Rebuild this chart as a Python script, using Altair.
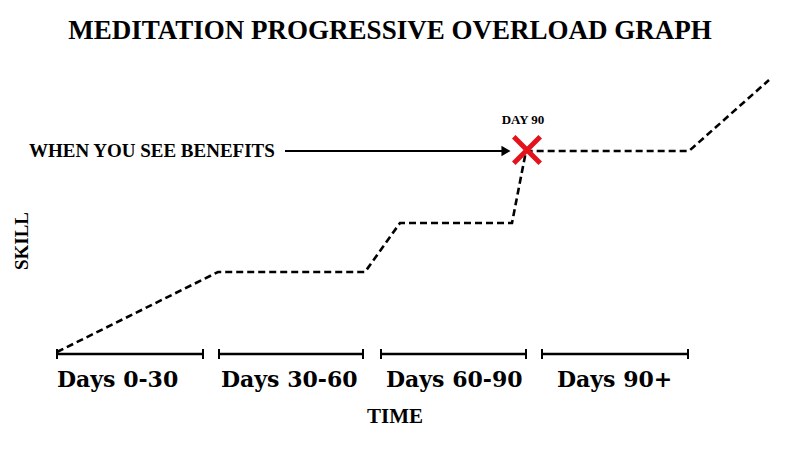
import altair as alt
import pandas as pd

# ---- data (time position / skill level) ----
line_time = [57, 218, 365, 400, 512, 526, 689, 769]
line_skill = [98, 178, 178, 227, 227, 299, 299, 370]

seg_start = [57, 219, 381, 542]
seg_end = [203, 363, 526, 688]
seg_labels = ["Days 0-30", "Days 30-60", "Days 60-90", "Days 90+"]
label_x = [57, 221, 386, 557]

seg_level = 96
tick_low, tick_high = 91, 101

arrow_start, arrow_end, arrow_level = 285, 505, 299
mark_time, mark_skill = 527, 300

title_text = "MEDITATION PROGRESSIVE OVERLOAD GRAPH"

xs = alt.Scale(domain=[0, 800], range=[0, 800], nice=False, zero=False)
ys = alt.Scale(domain=[0, 450], range=[450, 0], nice=False, zero=False)


def X(f, **kw):
    return alt.X(f, type="quantitative", scale=xs, axis=None, **kw)


def Y(f, **kw):
    return alt.Y(f, type="quantitative", scale=ys, axis=None, **kw)


line_df = pd.DataFrame({"time": line_time, "skill": line_skill, "order": range(len(line_time))})
seg_df = pd.DataFrame({"start": seg_start, "end": seg_end, "level": [seg_level] * 4})
tick_df = pd.DataFrame({"t": seg_start + seg_end, "lo": [tick_low] * 8, "hi": [tick_high] * 8})
lab_df = pd.DataFrame({"x": label_x, "y": [63] * 4, "label": seg_labels})

line = alt.Chart(line_df).mark_line(
    color="black", strokeWidth=2.6, strokeDash=[7, 4]
).encode(x=X("time"), y=Y("skill"), order="order:Q")

segs = alt.Chart(seg_df).mark_rule(color="black", strokeWidth=2.5).encode(
    x=X("start"), x2="end", y=Y("level")
)
ticks = alt.Chart(tick_df).mark_rule(color="black", strokeWidth=2).encode(
    x=X("t"), y=Y("lo"), y2="hi"
)
labels = alt.Chart(lab_df).mark_text(
    font="DejaVu Serif", fontWeight="bold", fontSize=22, align="left", baseline="alphabetic", color="black"
).encode(x=X("x"), y=Y("y"), text="label:N")

arrow_df = pd.DataFrame({"a": [arrow_start], "b": [arrow_end], "y": [arrow_level]})
arrow = alt.Chart(arrow_df).mark_rule(color="black", strokeWidth=2).encode(
    x=X("a"), x2="b", y=Y("y")
)
head = alt.Chart(pd.DataFrame({"x": [arrow_end + 1], "y": [arrow_level]})).mark_point(
    shape="triangle-right", filled=True, color="black", size=110, opacity=1
).encode(x=X("x"), y=Y("y"))

cross = alt.Chart(pd.DataFrame({"x": [mark_time], "y": [mark_skill]})).mark_point(
    shape="M-1,-1L1,1M1,-1L-1,1", filled=False, color="#e3121b", strokeWidth=5, size=700, opacity=1
).encode(x=X("x"), y=Y("y"))

texts_df = pd.DataFrame({
    "x": [390, 29, 523, 395],
    "y": [411, 293, 326, 27],
    "t": [title_text, "WHEN YOU SEE BENEFITS", "DAY 90", "TIME"],
    "size": [27, 19, 13, 21],
    "align": ["center", "left", "center", "center"],
})


def text_layer(i):
    r = texts_df.iloc[[i]]
    return alt.Chart(r).mark_text(
        font="Liberation Serif", fontWeight="bold", fontSize=int(r["size"].iloc[0]),
        align=r["align"].iloc[0], baseline="alphabetic", color="black"
    ).encode(x=X("x"), y=Y("y"), text="t:N")


skill_lab = alt.Chart(pd.DataFrame({"x": [28], "y": [209], "t": ["SKILL"]})).mark_text(
    font="Liberation Serif", fontWeight="bold", fontSize=19, align="center",
    baseline="alphabetic", angle=270, color="black"
).encode(x=X("x"), y=Y("y"), text="t:N")

chart = alt.layer(
    line, segs, ticks, labels, arrow, head, cross,
    text_layer(0), text_layer(1), text_layer(2), text_layer(3), skill_lab
).properties(width=800, height=450, autosize="none", padding=0, background="white"
).configure_view(stroke=None)

chart.save("out.html", embed_options={"renderer": "svg", "actions": False})
